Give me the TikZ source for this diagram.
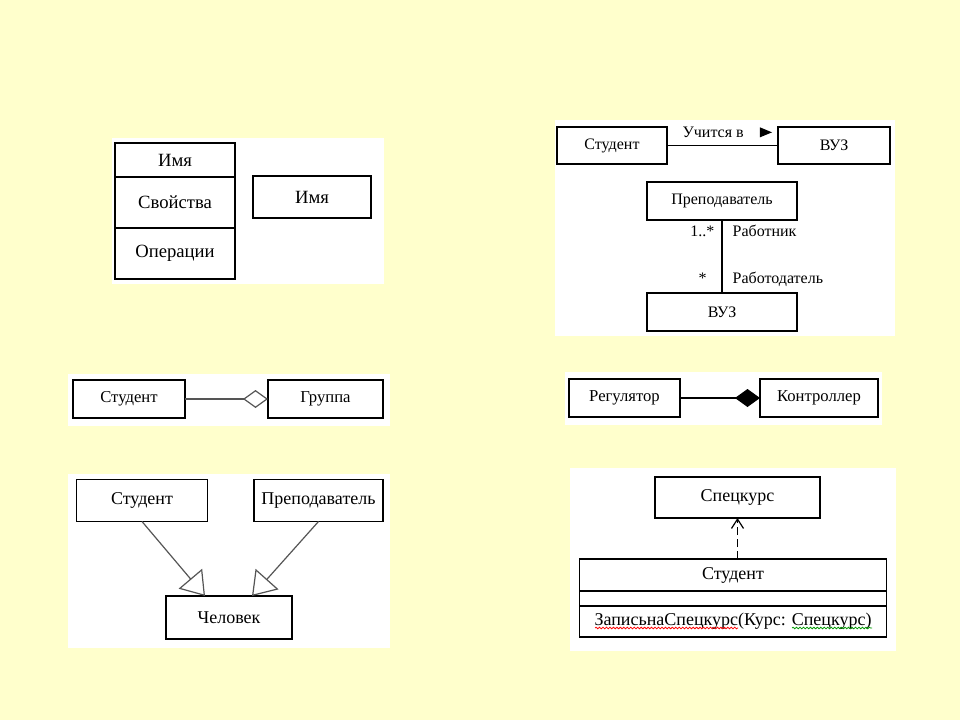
\documentclass[tikz,border=0pt]{standalone}
\usepackage{fontspec}
\setmainfont{Liberation Serif}
\usetikzlibrary{shapes,arrows.meta,positioning,decorations.pathmorphing}

\definecolor{bgyellow}{HTML}{FFFFCC}
\definecolor{linegray}{HTML}{555555}
\newcommand{\fsz}[1]{\fontsize{#1}{#1}\selectfont}

\begin{document}
\begin{tikzpicture}[x=0.75pt, y=-0.75pt,
  box/.style={draw, rectangle, fill=white, inner sep=0pt, outer sep=0pt, line width=0.8pt},
  lbl/.style={inner sep=0pt, font=\fsz{12}},
  conn/.style={linegray, line width=0.9pt},
  agg/.style={conn, -{Diamond[open, length=18.75pt, width=13.5pt]}},
  comp/.style={conn, black, -{Diamond[length=18.75pt, width=13.5pt]}},
  gen/.style={conn, -{Triangle[open, length=17pt, width=23pt]}},
  dep/.style={conn, black, dash pattern=on 6pt off 3pt, -{Straight Barb[length=7pt, width=9pt]}},
  spell/.style={line width=0.6pt, decorate, decoration={snake, amplitude=0.6pt, segment length=2.6pt}}]

% фон
\fill[bgyellow] (0,0) rectangle (960,720);
\useasboundingbox (0,0) rectangle (960,720);

% белые подложки
\fill[white] (112,138) rectangle (384,284);
\fill[white] (555,120) rectangle (895,336);
\fill[white] (68,374) rectangle (390,426);
\fill[white] (565,372) rectangle (882,425);
\fill[white] (68,474) rectangle (390,648);
\fill[white] (570,468) rectangle (896,651);

% Класс из трёх частей
\node[box, minimum width=90pt, minimum height=25.5pt, font=\fsz{14}] (name) at (175,160) {Имя};
\node[box, minimum width=90pt, minimum height=38.25pt, below=0pt of name, font=\fsz{14}] (props) {Свойства};
\node[box, minimum width=90pt, minimum height=38.25pt, below=0pt of props, font=\fsz{14}] (ops) {Операции};

% Класс одним прямоугольником
\node[box, minimum width=88.5pt, minimum height=31.5pt, font=\fsz{14}] (short) at (312,197) {Имя};

% Ассоциация с именем
\node[box, minimum width=82.5pt, minimum height=27.75pt, font=\fsz{12}] (stud) at (612,145.5) {Студент};
\node[box, minimum width=84pt, minimum height=27.75pt, font=\fsz{12}] (vuz) at (834,145.5) {ВУЗ};
\draw[conn, black] (stud) -- (vuz)
  node[lbl, pos=0.5, anchor=base, xshift=-7pt, yshift=6pt] (uch) {Учится в};
\node[isosceles triangle, fill=black, inner sep=0pt, minimum height=7.5pt, minimum width=7.5pt,
  right=11.5pt of uch] (dir) {};

% Ассоциация с ролями
\node[box, minimum width=112.5pt, minimum height=28.5pt, font=\fsz{12}] (prep) at (722,201) {Преподаватель};
\node[box, minimum width=112.5pt, minimum height=28.5pt, font=\fsz{12}] (vuzb) at (722,312) {ВУЗ};
\draw[conn, black] (prep) -- (vuzb)
  node[lbl, at start, anchor=base east, xshift=-5.25pt, yshift=-12.75pt] (mult1) {1..*}
  node[lbl, at start, anchor=base west, xshift=7.5pt, yshift=-12.75pt] (role1) {Работник}
  node[lbl, at end, anchor=base east, xshift=-11pt, yshift=6.75pt] (mult2) {*}
  node[lbl, at end, anchor=base west, xshift=7.5pt, yshift=6.75pt] (role2) {Работодатель};

% Агрегация
\node[box, minimum width=84pt, minimum height=28.5pt, font=\fsz{12.5}] (stud3) at (129,399) {Студент};
\node[box, minimum width=86.25pt, minimum height=28.5pt, font=\fsz{12.5}] (grp) at (325.5,399) {Группа};
\draw[agg] (stud3) -- (grp);

% Композиция
\node[box, minimum width=83.25pt, minimum height=28.5pt, font=\fsz{12.5}] (reg) at (624.5,398) {Регулятор};
\node[box, minimum width=88.5pt, minimum height=28.5pt, font=\fsz{12.5}] (ctrl) at (819,398) {Контроллер};
\draw[comp] (reg) -- (ctrl);

% Обобщение
\node[box, minimum width=98.25pt, minimum height=31.5pt, font=\fsz{13.5}] (stud5) at (142,500.5) {Студент};
\node[box, minimum width=96.75pt, minimum height=31.5pt, font=\fsz{13.5}] (prep5) at (318.5,500.5) {Преподаватель};
\node[box, minimum width=94.5pt, minimum height=32.25pt, font=\fsz{13.5}] (chel) at (229,617.5) {Человек};
\draw[gen] (stud5.south) -- ([xshift=-18pt]chel.north);
\draw[gen] (prep5.south) -- ([xshift=17.25pt]chel.north);

% Зависимость
\node[box, minimum width=123.75pt, minimum height=30.75pt, font=\fsz{13.5}] (spec) at (737.5,497.5) {Спецкурс};
\node[box, minimum width=230.25pt, minimum height=24pt, font=\fsz{13.5}] (stname) at (733,575) {Студент};
\node[box, minimum width=230.25pt, minimum height=11.25pt, below=0pt of stname] (stattr) {};
\node[box, minimum width=230.25pt, minimum height=23.25pt, below=0pt of stattr, font=\fsz{13.5}] (stops) {ЗаписьнаСпецкурс(Курс: Спецкурс)};
\draw[dep] (spec.south |- stname.north) -- (spec.south);
\draw[spell, red] (595,628) -- (738,628);
\draw[spell, green!60!black] (792,628) -- (872,628);
\end{tikzpicture}
\end{document}
